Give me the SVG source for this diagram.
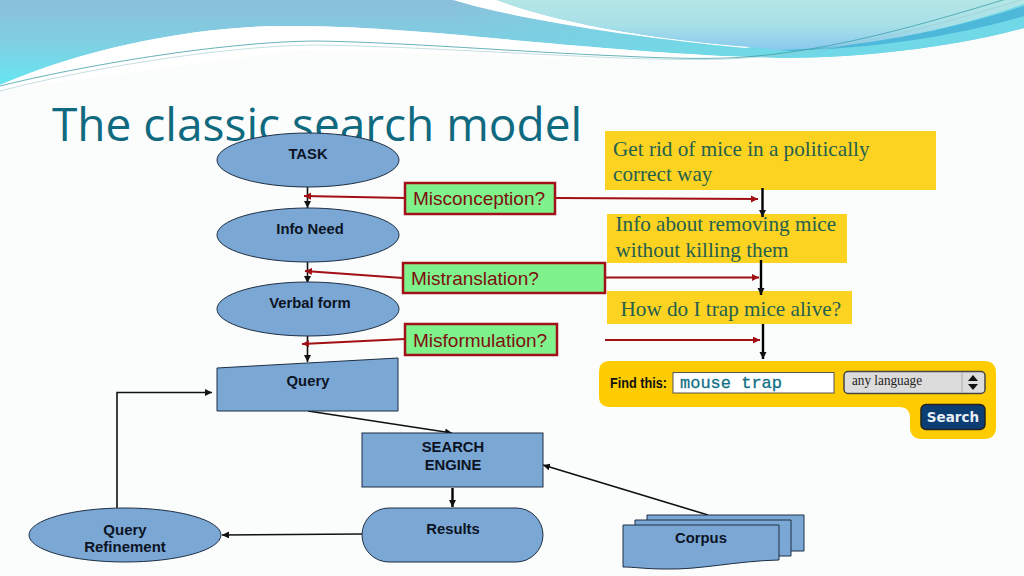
<svg xmlns="http://www.w3.org/2000/svg" width="1024" height="576" viewBox="0 0 1024 576">
<defs>
<linearGradient id="bg1" gradientUnits="userSpaceOnUse" x1="0" y1="85" x2="0" y2="0"><stop offset="0" stop-color="#66e6f2"/><stop offset=".5" stop-color="#7fcfe2"/><stop offset="1" stop-color="#8bbfda"/></linearGradient>
<linearGradient id="bg3" gradientUnits="userSpaceOnUse" x1="453" y1="0" x2="760" y2="0"><stop offset="0" stop-color="#70d8e6" stop-opacity="0"/><stop offset="1" stop-color="#70d8e6"/></linearGradient>
<linearGradient id="bg2" gradientUnits="userSpaceOnUse" x1="0" y1="0" x2="0" y2="50"><stop offset="0" stop-color="#b4e6e6"/><stop offset=".5" stop-color="#a8e0e8"/><stop offset="1" stop-color="#88c8ee"/></linearGradient>
<marker id="ab" markerWidth="8" markerHeight="8" refX="7" refY="3.500" orient="auto" markerUnits="userSpaceOnUse"><path d="M0 0L7 3.500L0 7z" fill="#111"/></marker>
<marker id="ar" markerWidth="9" markerHeight="8" refX="7" refY="3.500" orient="auto" markerUnits="userSpaceOnUse"><path d="M0 0L7 3.500L0 7z" fill="#a00f14"/></marker>
<style>
.n{fill:#7ba7d5;stroke:#1d2f44;stroke-width:1}
.t{font-family:"Liberation Sans",Arial,sans-serif;font-size:14.800px;font-weight:bold;fill:#0c1424;text-anchor:middle}
.g{fill:#80f28c;stroke:#a01018;stroke-width:2.500}
.gt{font-family:"Liberation Sans",Arial,sans-serif;font-size:19px;fill:#7c0e10}
.y{fill:#fdd322}
.s{font-family:"Liberation Serif","Times New Roman",serif;font-size:21.200px;fill:#24604e}
.k{fill:none;stroke:#111;stroke-width:1.600;marker-end:url(#ab)}
.kk{fill:none;stroke:#000;stroke-width:2.400;marker-end:url(#ab)}
.r{fill:none;stroke:#a00f14;stroke-width:2;marker-end:url(#ar)}
</style>
</defs>
<rect width="1024" height="576" fill="#fbfcfc"/>
<g id="banner">
<path d="M0 0H1024V28C950 48 860 58 779 58C700 56 622 50 512 40C430 32 360 26 283 26C200 26 90 46 0 85z" fill="url(#bg1)"/>
<path d="M453 0H1024V28C950 48 860 58 779 58C700 56 622 50 512 40L453 34z" fill="url(#bg3)"/>
<path d="M0 85C90 46 200 26 283 26C360 26 430 32 512 40C622 50 700 56 779 58L740 62L300 50L0 90z" fill="#fff"/>
<path d="M453 0H497C560 24 660 40 752 47L745 48C640 38 520 20 453 0z" fill="#fff"/>
<path d="M497 0H1024V4C960 26 880 48 779 50L752 47C660 40 560 24 497 0z" fill="url(#bg2)"/>
<path d="M779 50C860 48 950 30 1024 6V16C950 38 870 48 790 51z" fill="#4db8da"/>
<path d="M0 86C80 66 220 42 314 41C400 42 520 52 620 56C680 59 720 59 745 57C810 52 880 38 1006 -1" fill="none" stroke="#3fa0a6" stroke-width=".8"/>
<path d="M0 91C80 70 220 46 314 45C400 46 520 54 620 58C680 60 720 60 745 58C810 54 890 40 1024 -1" fill="none" stroke="#9cc9cc" stroke-width=".6"/>
</g>
<text x="52" y="141" font-family="'Open Sans','Noto Sans',sans-serif" font-size="46" fill="#0f6a80" id="title">The classic search model</text>
<g id="task-example"><rect class="y" x="605" y="131" width="331" height="59"/><text class="s" x="613" y="156">Get rid of mice in a politically</text><text class="s" x="613" y="181">correct way</text></g>
<g id="need-example"><rect class="y" x="607" y="214" width="240" height="49"/><text class="s" x="615.500" y="231">Info about removing mice</text><text class="s" x="615.500" y="257">without killing them</text></g>
<g id="verbal-example"><rect class="y" x="607" y="291" width="245" height="33"/><text class="s" x="620.500" y="316">How do I trap mice alive?</text></g>
<g id="connectors">
<line class="k" x1="307.500" y1="187" x2="307.500" y2="208"/>
<line class="k" x1="307.500" y1="262" x2="307.500" y2="283"/>
<line class="k" x1="307.500" y1="336" x2="307.500" y2="362"/>
<path class="k" d="M117 508V392.500H212"/>
<line class="k" x1="308" y1="411" x2="452" y2="433"/>
<line class="kk" x1="452.500" y1="488" x2="452.500" y2="507"/>
<line class="k" x1="362" y1="534" x2="222" y2="535"/>
<line class="k" x1="708" y1="515" x2="543" y2="465"/>
<line class="kk" x1="762.500" y1="188" x2="762.500" y2="217"/>
<line class="kk" x1="761" y1="260" x2="761" y2="295"/>
<line class="kk" x1="763" y1="324" x2="763" y2="359"/>
<line class="r" x1="405" y1="198" x2="304" y2="196"/>
<line class="r" x1="555" y1="198" x2="758" y2="199"/>
<line class="r" x1="403" y1="278" x2="305" y2="271"/>
<line class="r" x1="605" y1="277.500" x2="759" y2="277.500"/>
<line class="r" x1="405" y1="339" x2="302" y2="344"/>
<line class="r" x1="605" y1="340" x2="760" y2="340"/>
</g>
<g id="task"><ellipse class="n" cx="308" cy="160" rx="91" ry="27"/><text class="t" x="308" y="159">TASK</text></g>
<g id="info-need"><ellipse class="n" cx="308" cy="235" rx="91" ry="27"/><text class="t" x="310" y="234">Info Need</text></g>
<g id="verbal-form"><ellipse class="n" cx="308" cy="309" rx="91" ry="27"/><text class="t" x="310" y="308">Verbal form</text></g>
<g id="query"><path class="n" d="M217 368L398 358V411H217z"/><text class="t" x="308" y="386">Query</text></g>
<g id="search-engine"><rect class="n" x="362" y="433" width="181" height="54"/><text class="t" x="453" y="452">SEARCH</text><text class="t" x="453" y="470">ENGINE</text></g>
<g id="results"><rect class="n" x="362" y="508" width="181" height="54" rx="27"/><text class="t" x="453" y="534">Results</text></g>
<g id="query-refinement"><ellipse class="n" cx="125" cy="535" rx="96" ry="27"/><text class="t" x="125" y="535" style="font-size:15px">Query</text><text class="t" x="125" y="552" style="font-size:15px">Refinement</text></g>
<g id="corpus">
<path class="n" d="M647 515H804V551H647z"/>
<path class="n" d="M635 520H791V556H635z"/>
<path class="n" d="M623 525H779V560C735 561 700 570 665 569C645 569 635 567 623 567z"/>
<text class="t" x="701" y="543">Corpus</text>
</g>
<g id="misconception"><rect class="g" x="405" y="183" width="150" height="31"/><text class="gt" x="413" y="205">Misconception?</text></g>
<g id="mistranslation"><rect class="g" x="403" y="263" width="202" height="30"/><text class="gt" x="411" y="285">Mistranslation?</text></g>
<g id="misformulation"><rect class="g" x="405" y="324" width="152" height="31"/><text class="gt" x="413" y="346.500">Misformulation?</text></g>
<g id="search-form">
<path d="M610 361H984Q996 361 996 373V427Q996 439 984 439H922Q910 439 910 427V418Q910 407 899 407H610Q599 407 599 396V372Q599 361 610 361z" fill="#fecc00"/>
<text x="610" y="388" font-family="'Liberation Sans',Arial,sans-serif" font-size="14.500" font-weight="bold" fill="#111" textLength="57" lengthAdjust="spacingAndGlyphs">Find this:</text>
<rect x="673" y="372.500" width="161" height="20.500" fill="#fff" stroke="#555" stroke-width="1"/>
<text x="680" y="388" font-family="'Liberation Mono','Courier New',monospace" font-size="17" fill="#127186" stroke="#127186" stroke-width=".3">mouse trap</text>
<rect x="844" y="371.500" width="141" height="22" rx="4" fill="#dcdcdc" stroke="#444" stroke-width="1.500"/>
<line x1="962" y1="372" x2="962" y2="393" stroke="#aaa"/>
<text x="852" y="385" font-family="'Liberation Serif',serif" font-size="14" fill="#222" textLength="70" lengthAdjust="spacingAndGlyphs">any language</text>
<path d="M973 375L978 381H968zM968 384H978L973 390z" fill="#111"/>
<rect x="921" y="404.500" width="64" height="25" rx="5" fill="#0c3d73" stroke="#222" stroke-width="1.500"/>
<text x="953" y="422" font-family="'DejaVu Sans',sans-serif" font-size="13.500" font-weight="bold" fill="#e8eef5" text-anchor="middle">Search</text>
</g>
</svg>
